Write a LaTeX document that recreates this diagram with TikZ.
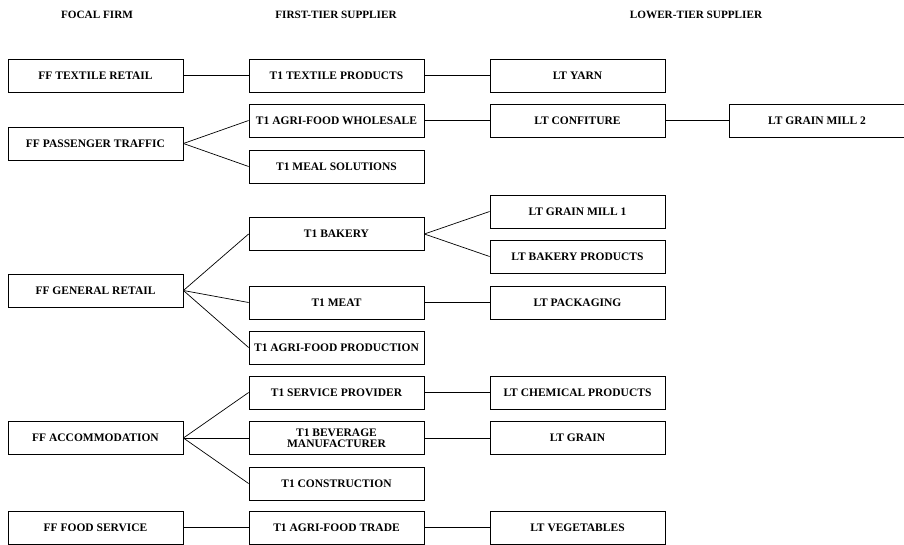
\documentclass[tikz,border=0pt]{standalone}
\usepackage{fontspec}
\setmainfont{Liberation Serif}
\tikzset{
  tierbox/.style = {draw = black, line width = 0.8pt, minimum width = 175pt, minimum height = 33pt,
    inner sep = 0pt, align = center, font = \fontsize{11.5}{11.5}\selectfont\bfseries},
  tierhead/.style = {font = \fontsize{11.2}{12}\selectfont\bfseries},
  link/.style = {draw = black, line width = 0.7pt}
}
\begin{document}
\begin{tikzpicture}[x = 1pt, y = -1pt]
\useasboundingbox (0,0) rectangle (904,544);
%Headers
\node[tierhead] (hfocal) at (97,15) {FOCAL FIRM};
\node[tierhead] (hfirst) at (336,15) {FIRST-TIER SUPPLIER};
\node[tierhead] (hlower) at (696,15) {LOWER-TIER SUPPLIER};
%Focal firms
\node[tierbox] (ffTextile) at (95.5,75.5) {FF TEXTILE RETAIL};
\node[tierbox] (ffPassenger) at (95.5,143.5) {FF PASSENGER TRAFFIC};
\node[tierbox] (ffGeneral) at (95.5,290.5) {FF GENERAL RETAIL};
\node[tierbox] (ffAccom) at (95.5,438) {FF ACCOMMODATION};
\node[tierbox] (ffFood) at (95.5,527.5) {FF FOOD SERVICE};
%First-tier suppliers
\node[tierbox] (tTextile) at (336.5,75.5) {T1 TEXTILE PRODUCTS};
\node[tierbox] (tWholesale) at (336.5,120.5) {T1 AGRI-FOOD WHOLESALE};
\node[tierbox] (tMeal) at (336.5,166.5) {T1 MEAL SOLUTIONS};
\node[tierbox] (tBakery) at (336.5,234) {T1 BAKERY};
\node[tierbox] (tMeat) at (336.5,302.5) {T1 MEAT};
\node[tierbox] (tProduction) at (336.5,347.5) {T1 AGRI-FOOD PRODUCTION};
\node[tierbox] (tService) at (336.5,392.5) {T1 SERVICE PROVIDER};
\node[tierbox] (tBeverage) at (336.5,438) {T1 BEVERAGE\\MANUFACTURER};
\node[tierbox] (tConstruction) at (336.5,483.5) {T1 CONSTRUCTION};
\node[tierbox] (tTrade) at (336.5,527.5) {T1 AGRI-FOOD TRADE};
%Lower-tier suppliers
\node[tierbox] (lYarn) at (577.5,75.5) {LT YARN};
\node[tierbox] (lConfiture) at (577.5,120.5) {LT CONFITURE};
\node[tierbox] (lMillTwo) at (817,120.5) {LT GRAIN MILL 2};
\node[tierbox] (lMillOne) at (577.5,211.5) {LT GRAIN MILL 1};
\node[tierbox] (lBakery) at (577.5,256.5) {LT BAKERY PRODUCTS};
\node[tierbox] (lPackaging) at (577.5,302.5) {LT PACKAGING};
\node[tierbox] (lChemical) at (577.5,392.5) {LT CHEMICAL PRODUCTS};
\node[tierbox] (lGrain) at (577.5,438) {LT GRAIN};
\node[tierbox] (lVegetables) at (577.5,527.5) {LT VEGETABLES};
%Links
\draw[link] (ffTextile.east) -- (tTextile.west);
\draw[link] (tTextile.east) -- (lYarn.west);
\draw[link] (ffPassenger.east) -- (tWholesale.west);
\draw[link] (ffPassenger.east) -- (tMeal.west);
\draw[link] (tWholesale.east) -- (lConfiture.west);
\draw[link] (lConfiture.east) -- (lMillTwo.west);
\draw[link] (ffGeneral.east) -- (tBakery.west);
\draw[link] (ffGeneral.east) -- (tMeat.west);
\draw[link] (ffGeneral.east) -- (tProduction.west);
\draw[link] (tBakery.east) -- (lMillOne.west);
\draw[link] (tBakery.east) -- (lBakery.west);
\draw[link] (tMeat.east) -- (lPackaging.west);
\draw[link] (ffAccom.east) -- (tService.west);
\draw[link] (ffAccom.east) -- (tBeverage.west);
\draw[link] (ffAccom.east) -- (tConstruction.west);
\draw[link] (tService.east) -- (lChemical.west);
\draw[link] (tBeverage.east) -- (lGrain.west);
\draw[link] (ffFood.east) -- (tTrade.west);
\draw[link] (tTrade.east) -- (lVegetables.west);
\end{tikzpicture}
\end{document}
